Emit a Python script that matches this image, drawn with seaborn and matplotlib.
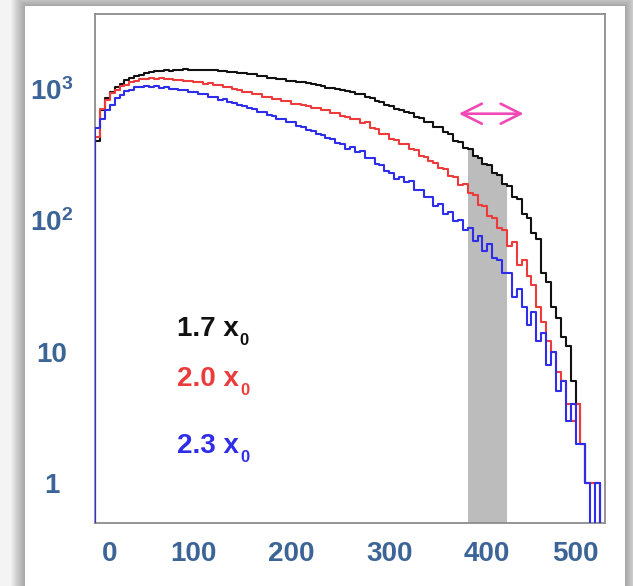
import numpy as np
import pandas as pd
import matplotlib
matplotlib.use("Agg")
import matplotlib.pyplot as plt
import matplotlib.transforms as mtransforms
from matplotlib.patches import Rectangle
from matplotlib.ticker import MultipleLocator, NullFormatter, FixedLocator
import seaborn as sns

# ---------------------------------------------------------------------------
# Data: counts per 5-unit bin, with an empty underflow bin [-5, 0)
# ---------------------------------------------------------------------------
bin_edges = list(range(-5, 525, 5))

counts_1p7 = [0,
    400, 690, 845, 945, 1040, 1095, 1170, 1205, 1260, 1280,
    1320, 1330, 1360, 1355, 1385, 1370, 1400, 1385, 1410, 1390,
    1400, 1385, 1395, 1380, 1395, 1365, 1375, 1345, 1350, 1320,
    1320, 1290, 1290, 1255, 1250, 1215, 1205, 1185, 1180, 1150,
    1155, 1125, 1130, 1100, 1095, 1060, 1050, 1020, 1020, 990,
    985, 955, 950, 915, 905, 865, 850, 805, 790, 750,
    735, 700, 695, 660, 650, 610, 600, 560, 555, 515,
    510, 465, 450, 400, 395, 355, 350, 310, 300, 268,
    262, 230, 222, 188, 182, 150, 146, 112, 104, 80,
    72, 40, 34, 22, 18, 13, 11, 6, 4, 2,
    1, 1, 1, 0]

counts_2p0 = [0,
    430, 700, 825, 925, 985, 1045, 1075, 1125, 1145, 1180,
    1180, 1205, 1190, 1200, 1180, 1185, 1160, 1165, 1140, 1145,
    1120, 1125, 1095, 1100, 1065, 1065, 1030, 1040, 990, 985,
    950, 945, 910, 905, 870, 870, 835, 830, 800, 800,
    770, 770, 750, 740, 710, 720, 690, 690, 650, 655,
    620, 615, 585, 590, 545, 555, 500, 495, 455, 450,
    415, 410, 380, 380, 350, 345, 310, 305, 280, 272,
    248, 245, 218, 212, 185, 190, 160, 155, 130, 128,
    108, 104, 88, 84, 64, 68, 46, 50, 38, 32,
    22, 17, 12, 10, 7, 6, 4, 3, 4, 2,
    1, 1, 1, 0]

counts_2p3 = [0,
    500, 590, 690, 750, 850, 890, 960, 980, 1030, 1025,
    1050, 1030, 1045, 1020, 1030, 1000, 1000, 970, 975, 940,
    940, 905, 905, 870, 865, 825, 830, 790, 785, 750,
    745, 710, 705, 670, 665, 630, 625, 590, 590, 555,
    555, 520, 515, 485, 475, 450, 445, 420, 418, 385,
    378, 350, 358, 330, 335, 300, 298, 270, 262, 238,
    230, 205, 212, 196, 198, 170, 170, 150, 150, 128,
    132, 112, 116, 98, 100, 84, 88, 70, 76, 58,
    66, 52, 50, 40, 40, 26, 30, 22, 16, 20,
    12, 14, 8, 10, 5, 6, 3, 4, 2, 2,
    1, 0, 1, 0]

series_names = ["1.7", "2.0", "2.3"]
series_colors = ["#111111", "#ec3b3b", "#2e2eea"]
band_range = (380, 420)
arrow_range = (371, 437)
x_ticks = [0, 100, 200, 300, 400, 500]
y_ticks = [1, 10, 100, 1000]
y_tick_labels = ["1", "10", "$10^2$", "$10^3$"]

# ---------------------------------------------------------------------------
sns.set_style("white")
plt.rcParams["font.family"] = ["Liberation Sans", "DejaVu Sans"]
plt.rcParams["font.weight"] = "bold"
plt.rcParams["mathtext.fontset"] = "custom"
plt.rcParams["mathtext.default"] = "bf"
plt.rcParams["mathtext.bf"] = "Liberation Sans:bold"
plt.rcParams["mathtext.rm"] = "Liberation Sans:bold"
plt.rcParams["mathtext.it"] = "Liberation Sans:bold"

W, H = 633, 586
fig = plt.figure(figsize=(W / 100, H / 100), dpi=100, facecolor="#f4f4f4")

# white slide panel with a soft drop shadow
px0, py0, pw, ph = 25, -10, 600, 590
for i in range(14, 0, -1):
    fig.patches.append(Rectangle(((px0 - i) / W, (py0 - i) / H),
                                 (pw + 2 * i) / W, (ph + 2 * i) / H,
                                 transform=fig.transFigure, facecolor="black",
                                 edgecolor="none", alpha=0.022, zorder=-3))
fig.patches.append(Rectangle((px0 / W, py0 / H), pw / W, ph / H,
                             transform=fig.transFigure, facecolor="white",
                             edgecolor="none", zorder=-2))

ax = fig.add_axes([95 / W, (586 - 523) / H, 510 / W, 509 / H])
ax.set_facecolor("white")

edges_arr = np.asarray(bin_edges, dtype=float)
centers = (edges_arr[:-1] + edges_arr[1:]) / 2
hist_df = pd.DataFrame({
    "center": np.tile(centers, 3),
    "count": np.concatenate([counts_1p7, counts_2p0, counts_2p3]).astype(float),
    "series": np.repeat(series_names, len(centers)),
})

# shaded window under the 1.7 x0 histogram
band_df = hist_df[(hist_df["series"] == series_names[0])
                  & (hist_df["center"] > band_range[0])
                  & (hist_df["center"] < band_range[1])]
band_edges = [e for e in bin_edges if band_range[0] <= e <= band_range[1]]
sns.histplot(data=band_df, x="center", weights="count", bins=band_edges,
             element="step", fill=True, color="#bcbcbc", alpha=1,
             linewidth=0, ax=ax, zorder=1)

for name, col in zip(series_names, series_colors):
    sns.histplot(data=hist_df[hist_df["series"] == name], x="center",
                 weights="count", bins=bin_edges, element="step",
                 fill=False, color=col, linewidth=1.5, ax=ax, zorder=3)

ax.set_yscale("log")
ax.set_xlim(0, 520)
ax.set_ylim(0.5, 3700)
ax.set_xlabel("")
ax.set_ylabel("")

# axes frame and ticks
for sp in ax.spines.values():
    sp.set_color("#8c8c8c")
    sp.set_linewidth(1.3)
    sp.set_zorder(2)

label_color = "#3c6496"
ax.xaxis.set_major_locator(FixedLocator(x_ticks))
ax.xaxis.set_minor_locator(MultipleLocator(20))
ax.set_xticklabels([str(t) for t in x_ticks])
ax.yaxis.set_major_locator(FixedLocator(y_ticks))
ax.yaxis.set_minor_formatter(NullFormatter())
ax.set_yticklabels(y_tick_labels)

ax.tick_params(axis="both", which="both", direction="in", color="#7f7f7f",
               labelcolor=label_color, labelsize=20)
ax.tick_params(axis="both", which="major", length=6, width=1.0)
ax.tick_params(axis="both", which="minor", length=3, width=0.9)
ax.tick_params(axis="x", which="major", pad=13)
ax.tick_params(axis="y", which="major", pad=31)
for lab in ax.get_yticklabels():
    lab.set_horizontalalignment("center")
    lab.set_fontweight("bold")
for lab in ax.get_xticklabels():
    lab.set_fontweight("bold")

xlabs = ax.get_xticklabels()
xlabs[0].set_transform(xlabs[0].get_transform() +
                       mtransforms.ScaledTranslation(0.15, 0, fig.dpi_scale_trans))
xlabs[-1].set_transform(xlabs[-1].get_transform() +
                        mtransforms.ScaledTranslation(-0.10, 0, fig.dpi_scale_trans))

# series labels "<factor> x" with a subscript 0
for name, col, yb in zip(series_names, series_colors, [13.1, 5.46, 1.69]):
    t = ax.text(84, yb, f"{name} x", color=col, fontsize=20, fontweight="bold",
                ha="left", va="baseline", zorder=5)
    ax.annotate("0", xy=(1, 0), xycoords=t, xytext=(0.5, -1.5),
                textcoords="offset points", color=col, fontsize=12,
                fontweight="bold", ha="left", va="baseline", zorder=5)

# double-headed arrow above the shaded window
ax.annotate("", xy=(arrow_range[1], 646), xytext=(arrow_range[0], 646),
            arrowprops=dict(arrowstyle="<->,head_length=0.72,head_width=0.36",
                            color="#f048b4", lw=1.9, mutation_scale=20,
                            shrinkA=0, shrinkB=0), zorder=5)

fig.savefig("out.png", dpi=100, facecolor=fig.get_facecolor())
